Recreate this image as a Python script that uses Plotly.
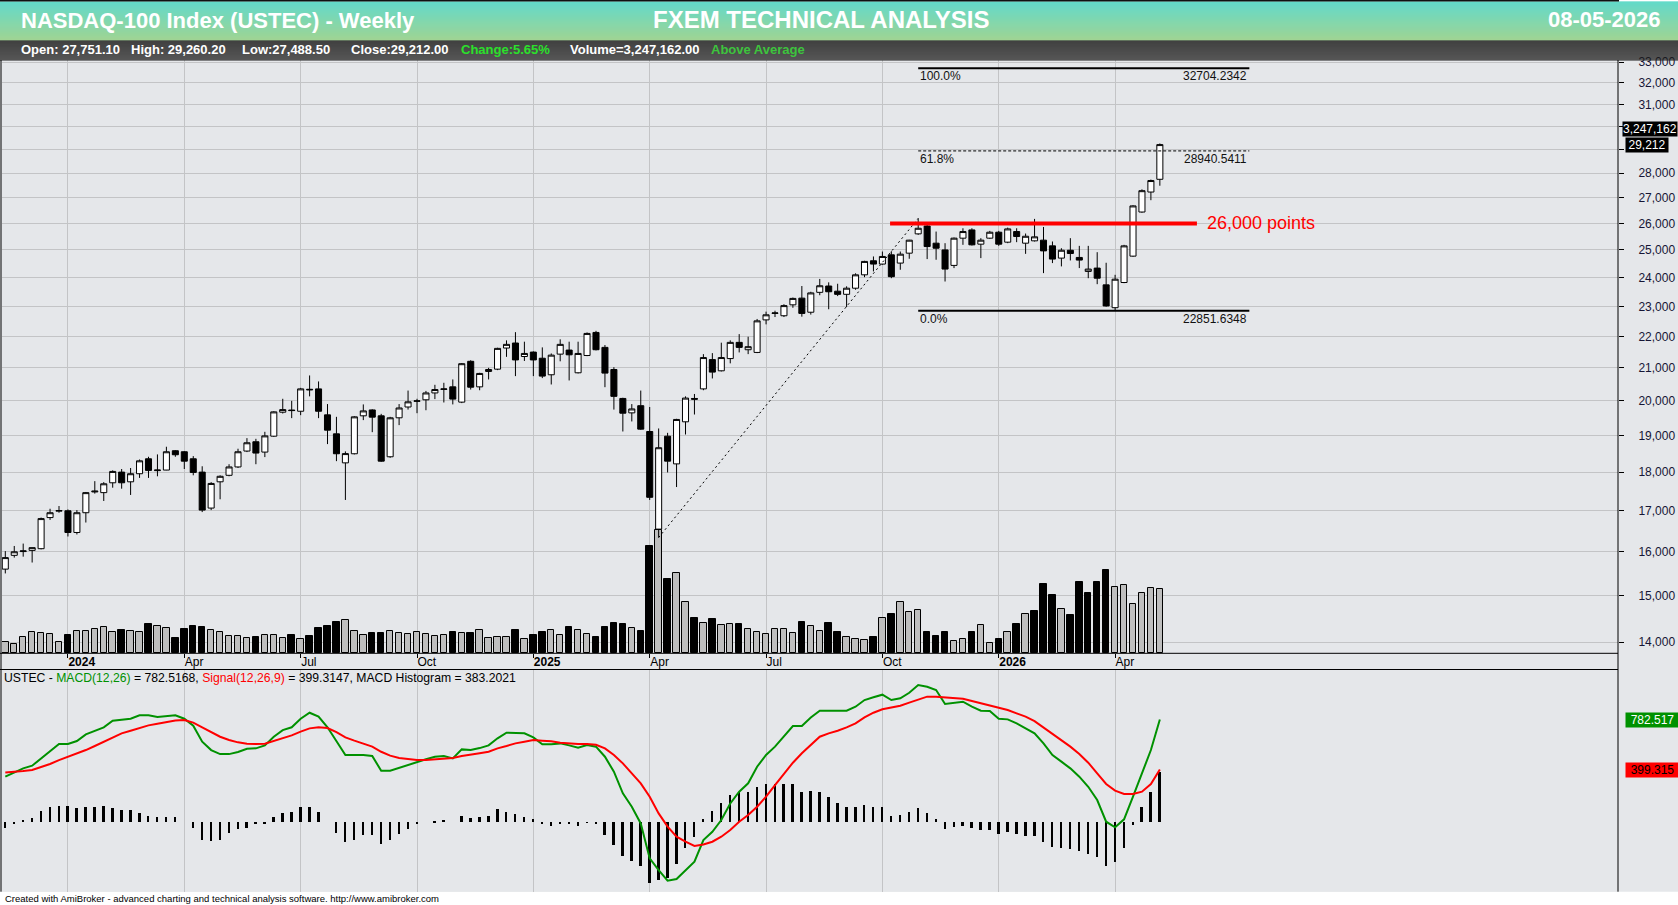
import math
import pandas as pd
import plotly.graph_objects as go

W, H = 1678, 905

# ------------------------------------------------------------------ data
week_ending = pd.date_range("2023-11-17", periods=130, freq="7D")  # weekly bars (Fri)

open_ = [15595, 15916, 16005, 16033, 16073, 16830, 16990, 17000, 16463, 16951,
         17480, 17462, 17718, 18000, 17744, 17957, 18358, 18040, 18055, 18578,
         18550, 18358, 18000, 17068, 17744, 17915, 18138, 18569, 18826, 18541,
         18982, 19667, 19730, 19695, 20345, 20357, 19590, 19048, 18248, 18495,
         19562, 19733, 19562, 18413, 19505, 19819, 19985, 20031, 20235, 20340,
         20418, 19962, 21204, 20418, 20888, 20959, 21624, 21785, 21355, 21495,
         21301, 20786, 21430, 21559, 20847, 21387, 22128, 21645, 20949, 20071,
         19648, 19857, 19114, 16545, 18982, 18220, 19390, 20070, 20357, 21258,
         20908, 21290, 21806, 21570, 21484, 22543, 22760, 22681, 23050, 23280,
         22800, 23480, 23700, 23520, 23412, 23624, 24096, 24602, 24482, 24819,
         24518, 24880, 25600, 25900, 25250, 25000, 24434, 25438, 25750, 25213,
         25438, 25663, 25288, 25688, 25250, 25338, 25363, 25150, 24699, 24988,
         24723, 24217, 24337, 23741, 22953, 23824, 24771, 26440, 27233, 27751.10]
high = [16016, 16138, 16195, 16100, 16830, 17051, 17120, 17034, 17017, 17479,
        17761, 17735, 18046, 18083, 18110, 18339, 18413, 18477, 18688, 18596,
        18569, 18431, 18156, 17735, 17915, 18211, 18633, 18927, 18908, 19105,
        19695, 20061, 20000, 20388, 20765, 20582, 19905, 19533, 18560, 19552,
        19895, 19752, 19619, 19533, 19905, 20306, 20061, 20296, 20480, 20541,
        20643, 21150, 21237, 20847, 21000, 21634, 21871, 22138, 21828, 21516,
        21645, 21452, 21904, 21828, 21828, 22128, 22181, 21720, 21020, 20092,
        19905, 20306, 19819, 19200, 19076, 19476, 20133, 20204, 21430, 21462,
        21796, 21871, 22074, 21989, 22574, 22819, 22851, 23071, 23300, 23700,
        23500, 23950, 23830, 23780, 23690, 24150, 24602, 24759, 24940, 24950,
        24940, 25375, 26192.6, 25938, 25688, 25250, 25463, 25813, 25813, 25438,
        25713, 25713, 25838, 25813, 25613, 26173, 25863, 25313, 25063, 25438,
        25150, 25150, 24916, 24530, 24096, 25188, 26707, 27342, 27740, 29260.20]
low = [15496, 15863, 15885, 15748, 16057, 16772, 16951, 16366, 16415, 16707,
       17436, 17248, 17590, 17564, 17402, 17846, 17846, 17889, 18050, 18413,
       18083, 17915, 16967, 17017, 17291, 17889, 18110, 18541, 18211, 18404,
       18963, 19629, 19495, 19581, 20133, 19495, 18761, 18294, 17274, 18477,
       19438, 19095, 18275, 18385, 19295, 19743, 19638, 19724, 20051, 19952,
       19895, 19933, 20337, 20316, 20643, 20929, 21344, 20745, 21215, 20745,
       20684, 20490, 21204, 20612, 20827, 21366, 21548, 20408, 19743, 19114,
       19400, 19162, 17274, 16340, 17991, 17607, 19029, 19600, 20316, 20673,
       20888, 21140, 21484, 21430, 21462, 22394, 22638, 22638, 22950, 22650,
       22720, 23380, 22900, 23350, 22976, 23570, 24012, 24217, 24458, 23976,
       24277, 24675, 25562, 24663, 24639, 23859, 24337, 25188, 25163, 24699,
       25413, 25150, 25250, 25288, 24855, 25313, 24157, 24518, 24398, 24614,
       24337, 23976, 23765, 22988, 22851.63, 23800, 24747, 26413, 26907, 27488.50]
close = [15863, 16000, 16020, 16098, 16805, 16951, 17005, 16463, 16951, 17462,
         17500, 17692, 18018, 17718, 17957, 18303, 18046, 18055, 18550, 18468,
         18294, 17991, 17017, 17701, 17889, 18138, 18550, 18798, 18514, 18991,
         19676, 19743, 19715, 20357, 20330, 19695, 19152, 18495, 18500, 19533,
         19705, 19524, 18294, 19505, 19790, 19971, 20000, 20235, 20337, 20355,
         20051, 21129, 20408, 20827, 20949, 21613, 21742, 21247, 21452, 21247,
         20745, 21398, 21742, 21409, 21452, 22096, 21570, 20837, 20133, 19638,
         19762, 19181, 17342, 18661, 18294, 19457, 20082, 20050, 21322, 20868,
         21322, 21806, 21645, 21667, 22511, 22713, 22775, 23024, 23270, 22760,
         23460, 23710, 23500, 23410, 23624, 24096, 24578, 24482, 24759, 24030,
         24843, 25363, 25813, 25125, 25063, 24301, 25438, 25688, 25188, 25363,
         25663, 25213, 25788, 25500, 25510, 25488, 24964, 24663, 24988, 24867,
         24627, 24301, 23976, 23012, 23941, 25150, 26680, 27288, 27700, 29212.00]
volume = [558000, 457000, 847000, 1065000, 1015000, 964000, 558000, 913000, 1152000, 1152000,
          1218000, 1319000, 1065000, 1167000, 1152000, 1065000, 1471000, 1405000, 1268000, 761000,
          1218000, 1370000, 1319000, 1167000, 1065000, 863000, 863000, 761000, 812000, 913000,
          913000, 761000, 913000, 710000, 878000, 1268000, 1370000, 1588000, 1674000, 1152000,
          913000, 1030000, 1030000, 1116000, 1030000, 964000, 1065000, 964000, 863000, 913000,
          1065000, 1015000, 1015000, 1167000, 761000, 812000, 812000, 1167000, 710000, 913000,
          1065000, 1167000, 913000, 1319000, 1167000, 964000, 812000, 1319000, 1522000, 1471000,
          1268000, 1116000, 5429000, 6241000, 3755000, 4059000, 2588000, 1776000, 1522000, 1725000,
          1421000, 1471000, 1471000, 1218000, 1065000, 964000, 1218000, 1218000, 1015000, 1573000,
          1370000, 1116000, 1522000, 1065000, 812000, 710000, 660000, 827000, 1776000, 1994000,
          2588000, 2080000, 2182000, 1081000, 878000, 1081000, 609000, 710000, 1081000, 1421000,
          507000, 726000, 1081000, 1487000, 1994000, 2146000, 3516000, 2958000, 2232000, 1943000,
          3618000, 3059000, 3618000, 4226000, 3349000, 3465000, 2501000, 3044000, 3298000, 3247162]

macd = [345, 378, 409, 429, 485, 541, 595, 595, 618, 669, 697, 723, 774, 784, 789, 815, 815, 802, 810, 815,
        789, 736, 613, 549, 518, 518, 534, 559, 562, 585, 651, 702, 723, 789, 835, 805, 723, 618, 511, 511,
        511, 503, 391, 391, 414, 437, 460, 478, 498, 503, 485, 554, 549, 564, 585, 639, 682, 682, 677, 646,
        593, 593, 600, 585, 567, 587, 575, 498, 383, 217, 115, -13, -281, -370, -452, -439, -370, -306, -140, -77,
        13, 140, 230, 294, 421, 511, 575, 651, 733, 733, 799, 850, 850, 850, 850, 881, 932, 953, 973, 932,
        945, 988, 1047, 1034, 1009, 902, 912, 919, 881, 850, 848, 789, 784, 753, 715, 677, 600, 511, 460, 409,
        345, 268, 166, 0, -43, 18, 192, 370, 549, 782.5168]
signal = [378, 381, 388, 396, 416, 442, 472, 498, 518, 549, 580, 613, 646, 677, 697, 720, 738, 751, 764, 776,
          779, 759, 723, 684, 651, 626, 608, 598, 595, 598, 618, 641, 661, 690, 715, 723, 718, 687, 646, 621,
          598, 575, 536, 506, 488, 478, 472, 472, 478, 485, 488, 503, 511, 524, 536, 562, 580, 600, 613, 626,
          621, 616, 605, 598, 595, 595, 590, 562, 511, 447, 370, 294, 192, 64, -38, -115, -153, -186, -174, -153,
          -115, -64, 0, 51, 115, 192, 281, 370, 452, 524, 587, 651, 677, 697, 723, 753, 799, 835, 861, 873,
          889, 912, 937, 958, 958, 953, 948, 942, 925, 907, 891, 876, 856, 830, 805, 771, 723, 672, 626, 575,
          518, 452, 370, 289, 238, 212, 212, 230, 289, 399.3147]
histogram = [-43, -8, 20, 31, 84, 115, 128, 123, 107, 115, 115, 128, 107, 94, 97, 69, 51, 43, 38, 38,
             0, -43, -133, -146, -135, -84, -51, -46, -13, -8, 38, 69, 82, 120, 120, 77, 0, -84, -153, -133,
             -97, -97, -166, -133, -89, -51, -8, 0, 13, 18, 0, 51, 31, 38, 51, 102, 77, 64, 38, 26,
             -8, -26, -8, -8, -31, -5, -13, -94, -174, -255, -294, -337, -465, -442, -427, -319, -199, -115, 26, 89,
             148, 212, 230, 230, 273, 294, 294, 294, 294, 235, 243, 230, 192, 146, 115, 115, 133, 120, 120, 51,
             59, 82, 110, 72, 26, -51, -38, -26, -46, -59, -59, -89, -77, -89, -102, -107, -153, -192, -197, -204,
             -217, -243, -263, -332, -306, -197, -20, 120, 230, 383.2021]

price_ticks = list(range(14000, 34000, 1000))
covered_ticks = [29000, 30000]   # hidden behind the last-value boxes in the original
time_tick_dates = ["2024-01-05", "2024-04-05", "2024-07-05", "2024-10-04", "2025-01-03",
                   "2025-04-04", "2025-07-04", "2025-10-03", "2026-01-02", "2026-04-03"]
time_tick_text = ["<b>2024</b>", "Apr", "Jul", "Oct", "<b>2025</b>",
                  "Apr", "Jul", "Oct", "<b>2026</b>", "Apr"]

fib_levels = [32704.2342, 28940.5411, 22851.6348]
fib_names = ["100.0%", "61.8%", "0.0%"]
fib_span = ["2025-10-31", "2026-07-17"]
resistance_level = 26000
resistance_span = ["2025-10-09", "2026-06-06"]
resistance_label = "26,000 points"
trend_dates = ["2025-04-11", "2025-10-31"]
trend_values = [16340, 26192.6]

header_info = [("Open: 27,751.10", "white"), ("High: 29,260.20", "white"),
               ("Low:27,488.50", "white"), ("Close:29,212.00", "white"),
               ("Change:5.65%", "#2BE02B"), ("Volume=3,247,162.00", "white"),
               ("Above Average", "#3DC43D")]

# ------------------------------------------------------------------ layout geometry
BG = "#E5E7EA"
GRID = "#C3C4C6"
AX_TXT = "#151535"
GREEN = "#009100"
FONT = "Liberation Sans, Arial, sans-serif"

X0, X1 = 2, 1618
P_TOP, P_BOT = 60, 653.3
M_TOP, M_BOT = 669.5, 891.7
BAR_PX = 8.95
FIRST_PX = 5.3


def px(x):
    return x / W


def py(y):
    return 1 - y / H


day = pd.Timedelta(days=1)
x_start = week_ending[0] - day * (7 * (FIRST_PX - X0) / BAR_PX)
x_end = week_ending[0] + day * (7 * (X1 - FIRST_PX) / BAR_PX)

PX_PER_LN = 676.4
p_lo = 14000 * math.exp((642.1 - P_BOT) / PX_PER_LN)
p_hi = 14000 * math.exp((642.1 - P_TOP) / PX_PER_LN)
vol_max = (P_BOT - P_TOP) / 64.0 * volume[-1]
macd_range = [-536, 1166]

week_ms = 7 * 86400000

vol_colors = ["#BEBEBE"] + ["black" if close[i] < close[i - 1] else "#BEBEBE"
                            for i in range(1, len(close))]

fig = go.Figure()

# volume (base axis of the price panel, drawn under candles)
fig.add_trace(go.Bar(x=week_ending, y=volume, width=0.72 * week_ms,
                     marker=dict(color=vol_colors, line=dict(color="black", width=1)),
                     xaxis="x", yaxis="y", hoverinfo="skip"))

fig.add_trace(go.Candlestick(
    x=week_ending, open=open_, high=high, low=low, close=close,
    increasing=dict(fillcolor="white", line=dict(color="black", width=1)),
    decreasing=dict(fillcolor="black", line=dict(color="black", width=1)),
    whiskerwidth=0, xaxis="x", yaxis="y2", hoverinfo="skip"))

# fib levels
for lvl, nm in zip(fib_levels, fib_names):
    dashed = nm == "61.8%"
    fig.add_trace(go.Scatter(x=fib_span, y=[lvl, lvl], mode="lines",
                             line=dict(color="black", width=1 if dashed else 2,
                                       dash="3px,2px" if dashed else "solid"),
                             xaxis="x", yaxis="y2", hoverinfo="skip"))

# trend line (dotted)
fig.add_trace(go.Scatter(x=trend_dates, y=trend_values, mode="lines",
                         line=dict(color="black", width=1, dash="2px,3px"),
                         xaxis="x", yaxis="y2", hoverinfo="skip"))

# resistance line
fig.add_trace(go.Scatter(x=resistance_span, y=[resistance_level] * 2, mode="lines",
                         line=dict(color="#FF0000", width=4),
                         xaxis="x", yaxis="y2", hoverinfo="skip"))

# last-value arrows on the right axis
arrow_x = [x_end + day * (7 * 4 / BAR_PX)]
fig.add_trace(go.Scatter(x=arrow_x, y=[close[-1]], mode="markers",
                         marker=dict(symbol="triangle-left", size=10, color="black"),
                         cliponaxis=False, xaxis="x", yaxis="y2", hoverinfo="skip"))

# MACD panel
fig.add_trace(go.Bar(x=week_ending, y=histogram, width=1.5 * 86400000,
                     marker=dict(color="black", line=dict(width=0)),
                     xaxis="x2", yaxis="y3", hoverinfo="skip"))
fig.add_trace(go.Scatter(x=week_ending, y=macd, mode="lines",
                         line=dict(color=GREEN, width=2), xaxis="x2", yaxis="y3",
                         hoverinfo="skip"))
fig.add_trace(go.Scatter(x=week_ending, y=signal, mode="lines",
                         line=dict(color="#FF0000", width=2), xaxis="x2", yaxis="y3",
                         hoverinfo="skip"))
fig.add_trace(go.Scatter(x=arrow_x, y=[macd[-1]], mode="markers",
                         marker=dict(symbol="triangle-left", size=10, color=GREEN),
                         cliponaxis=False, xaxis="x2", yaxis="y3", hoverinfo="skip"))

# ------------------------------------------------------------------ shapes
shapes = []
# chart background
shapes.append(dict(type="rect", xref="paper", yref="paper", x0=0, x1=1,
                   y0=py(M_BOT), y1=py(P_TOP), fillcolor=BG, line=dict(width=0),
                   layer="below"))
# header gradient
top_c = (47, 205, 184)
bot_c = (128, 198, 112)
n_strips = 39
for i in range(n_strips):
    t = i / (n_strips - 1)
    c = tuple(int(round(top_c[k] + (bot_c[k] - top_c[k]) * t)) for k in range(3))
    shapes.append(dict(type="rect", xref="paper", yref="paper", x0=0, x1=1,
                       y0=py(1.5 + i + 1.05), y1=py(1.5 + i),
                       fillcolor="rgb(%d,%d,%d)" % c, line=dict(width=0), layer="above"))
shapes.append(dict(type="rect", xref="paper", yref="paper", x0=0, x1=px(1619),
                   y0=py(1.5), y1=1, fillcolor="#111111", line=dict(width=0), layer="above"))
# black info bar gradient (covers the top of the price axis labels like the original)
for i in range(20):
    t = i / 19
    g = int(round(2 + (30 - 2) * t))
    shapes.append(dict(type="rect", xref="paper", yref="paper", x0=0, x1=1,
                       y0=py(40.5 + i + 1.05), y1=py(40.5 + i),
                       fillcolor="rgb(%d,%d,%d)" % (g, g, g), line=dict(width=0),
                       layer="above"))
# borders
for yy in (P_BOT, M_TOP):
    shapes.append(dict(type="line", xref="paper", yref="paper", x0=0, x1=px(X1),
                       y0=py(yy), y1=py(yy), line=dict(color="black", width=1)))
shapes.append(dict(type="line", xref="paper", yref="paper", x0=px(X1), x1=px(X1),
                   y0=py(M_BOT), y1=py(P_TOP), line=dict(color="black", width=1)))
shapes.append(dict(type="line", xref="paper", yref="paper", x0=px(1), x1=px(1),
                   y0=py(M_BOT), y1=py(P_TOP), line=dict(color="black", width=1)))

# ------------------------------------------------------------------ annotations
ann = []


def text(x, y, s, size, color="black", anchor="left", bold=False, **kw):
    ann.append(dict(x=px(x), y=py(y), xref="paper", yref="paper", text=s,
                    showarrow=False, xanchor=anchor, yanchor="middle",
                    font=dict(family=FONT, size=size, color=color,
                              weight="bold" if bold else "normal"), **kw))


text(19, 21, "NASDAQ-100 Index (USTEC) - Weekly", 22, "white", bold=True)
text(821, 20, "FXEM TECHNICAL ANALYSIS", 24, "white", anchor="center", bold=True)
text(1663, 20, "08-05-2026", 22, "white", anchor="right", bold=True)

info_x = [19, 129, 240, 349, 459, 568, 709]
for (s, c), xx in zip(header_info, info_x):
    text(xx, 49.5, s, 13, c, bold=True)

text(2, 677.5,
     'USTEC - <span style="color:%s">MACD(12,26)</span> = 782.5168, '
     '<span style="color:#FF0000">Signal(12,26,9)</span> = 399.3147, '
     'MACD Histogram = 383.2021' % GREEN, 12.2)
text(3, 898, "Created with AmiBroker - advanced charting and technical analysis software. "
             "http://www.amibroker.com", 9.5)

# fib labels
for lvl, nm in zip(fib_levels, fib_names):
    ann.append(dict(x=fib_span[0], y=math.log10(lvl), xref="x", yref="y2", text=nm,
                    showarrow=False, xanchor="left", yanchor="middle", yshift=-8,
                    font=dict(family=FONT, size=12, color="#111111")))
    ann.append(dict(x=fib_span[1], y=math.log10(lvl), xref="x", yref="y2",
                    text="%.4f" % lvl, showarrow=False, xanchor="right",
                    yanchor="middle", yshift=-8,
                    font=dict(family=FONT, size=12, color="#111111")))

ann.append(dict(x="2026-06-12", y=math.log10(resistance_level), xref="x", yref="y2",
                text=resistance_label, showarrow=False, xanchor="left",
                yanchor="middle", font=dict(family=FONT, size=18, color="#FF0000")))

# value boxes on the right axis
ann.append(dict(x=px(1622), y=py(129.5), xref="paper", yref="paper",
                text="3,247,162", showarrow=False, xanchor="left", yanchor="middle",
                bgcolor="black", borderpad=0, height=14,
                font=dict(family=FONT, size=12, color="white")))
ann.append(dict(x=px(1625), y=math.log10(close[-1]), xref="paper", yref="y2",
                text="29,212", showarrow=False, xanchor="left", yanchor="middle",
                bgcolor="black", borderpad=0, width=42, height=14, align="center",
                font=dict(family=FONT, size=12, color="white")))
ann.append(dict(x=px(1625), y=macd[-1], xref="paper", yref="y3",
                text="782.517", showarrow=False, xanchor="left", yanchor="middle",
                bgcolor=GREEN, borderpad=0, width=53, height=14, align="center",
                font=dict(family=FONT, size=12, color="white")))
ann.append(dict(x=px(1625), y=signal[-1], xref="paper", yref="y3",
                text="399.315", showarrow=False, xanchor="left", yanchor="middle",
                bgcolor="#FF0000", borderpad=0, width=53, height=14, align="center",
                font=dict(family=FONT, size=12, color="black")))

price_tick_text = ["" if v in covered_ticks else "{:,}".format(v) for v in price_ticks]

# ------------------------------------------------------------------ axes
fig.update_layout(
    width=W, height=H, margin=dict(l=0, r=0, t=0, b=0, autoexpand=False),
    paper_bgcolor="white", plot_bgcolor=BG,
    showlegend=False, hovermode=False, dragmode=False,
    font=dict(family=FONT, size=12, color="black"),
    boxgap=0.1, boxgroupgap=0.25, bargap=0,
    shapes=shapes, annotations=ann,
    xaxis=dict(domain=[px(X0), px(X1)], type="date", range=[x_start, x_end],
               anchor="y", tickvals=time_tick_dates, ticktext=time_tick_text,
               ticks="outside", ticklen=4, tickcolor="black", tickwidth=1,
               ticklabelposition="outside right", ticklabelstandoff=-3,
               tickfont=dict(family=FONT, size=12, color="black"),
               showgrid=True, gridcolor=GRID, gridwidth=1, zeroline=False,
               showline=False, rangeslider=dict(visible=False), fixedrange=True,
               automargin=False),
    xaxis2=dict(domain=[px(X0), px(X1)], type="date", range=[x_start, x_end],
                anchor="y3", matches="x", tickvals=time_tick_dates,
                showticklabels=False, ticks="", showgrid=True, gridcolor=GRID,
                gridwidth=1, zeroline=False, showline=False, fixedrange=True,
                automargin=False),
    yaxis=dict(domain=[py(P_BOT), py(P_TOP)], range=[0, vol_max], visible=False,
               fixedrange=True, anchor="x", automargin=False),
    yaxis2=dict(overlaying="y", anchor="x", side="right", type="log",
                range=[math.log10(p_lo), math.log10(p_hi)],
                tickvals=price_ticks, ticktext=price_tick_text,
                ticks="outside", ticklen=5, tickcolor="black", tickwidth=1,
                ticklabelstandoff=12,
                tickfont=dict(family=FONT, size=12, color=AX_TXT),
                showgrid=True, gridcolor=GRID, gridwidth=1, zeroline=False,
                showline=False, fixedrange=True, automargin=False),
    yaxis3=dict(domain=[py(M_BOT), py(M_TOP)], range=macd_range, anchor="x2",
                side="right", showticklabels=False, ticks="", showgrid=False,
                zeroline=False, showline=False, fixedrange=True, automargin=False),
)

fig.write_html("out.html")
